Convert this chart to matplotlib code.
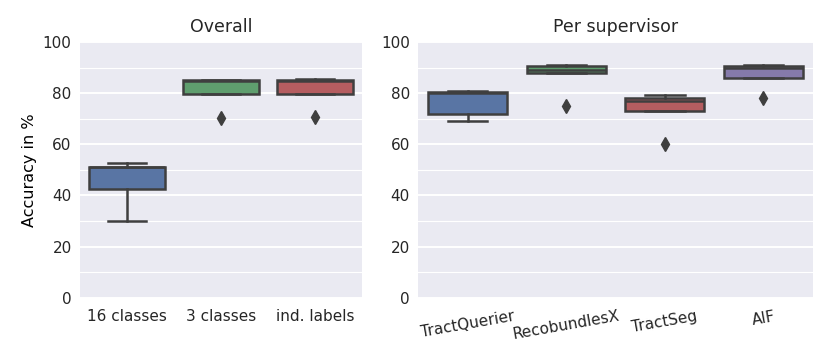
import colorsys
import numpy as np
import matplotlib
matplotlib.use("Agg")
import matplotlib.pyplot as plt
import matplotlib.colors as mcolors
from matplotlib.ticker import MultipleLocator

# accuracy values (%), five runs per group
overall_labels = ["16 classes", "3 classes", "ind. labels"]
overall_values = [
    [30.0, 42.4, 51.0, 51.2, 52.8],
    [70.2, 79.6, 84.8, 85.0, 85.3],
    [70.5, 79.7, 84.8, 85.0, 85.6],
]
supervisor_labels = ["TractQuerier", "RecobundlesX", "TractSeg", "AIF"]
supervisor_values = [
    [69.0, 71.8, 80.0, 80.3, 81.0],
    [75.0, 88.0, 89.0, 90.5, 91.0],
    [60.1, 73.0, 77.0, 78.0, 79.3],
    [78.0, 85.8, 90.0, 90.8, 91.2],
]
overall_colors = ["#4C72B0", "#55A868", "#C44E52"]
supervisor_colors = ["#4C72B0", "#55A868", "#C44E52", "#8172B2"]


def desaturate(c, prop=0.75):
    r, g, b = mcolors.to_rgb(c)
    h, l, s = colorsys.rgb_to_hls(r, g, b)
    return colorsys.hls_to_rgb(h, l, s * prop)


edge = "#3f3f3f"
lw = 1.8
plt.rcParams["font.family"] = "DejaVu Sans"
plt.rcParams["text.color"] = "#262626"
plt.rcParams["xtick.color"] = "#262626"
plt.rcParams["ytick.color"] = "#262626"


def draw(ax, labels, values, colors, title):
    ax.set_facecolor("#EAEAF2")
    for s in ax.spines.values():
        s.set_visible(False)
    ax.set_axisbelow(True)
    ax.yaxis.set_major_locator(MultipleLocator(20))
    ax.yaxis.set_minor_locator(MultipleLocator(10))
    ax.grid(which="major", axis="y", color="white", lw=1.4)
    ax.grid(which="minor", axis="y", color="white", lw=0.8)
    ax.tick_params(which="both", length=0, labelsize=11)
    ax.tick_params(axis="x", pad=8)
    ax.tick_params(axis="y", pad=6)
    bp = ax.boxplot(values, positions=range(len(values)), widths=0.8,
                    patch_artist=True, whis=1.5,
                    boxprops=dict(lw=lw, edgecolor=edge),
                    medianprops=dict(lw=lw, color=edge),
                    whiskerprops=dict(lw=lw, color=edge),
                    capprops=dict(lw=lw, color=edge),
                    flierprops=dict(marker="d", markersize=7,
                                    markerfacecolor=edge, markeredgecolor=edge))
    for patch, c in zip(bp["boxes"], colors):
        patch.set_facecolor(desaturate(c))
    ax.set_xlim(-0.5, len(values) - 0.5)
    ax.set_ylim(0, 100)
    ax.set_xticks(range(len(values)))
    ax.set_title(title, fontsize=12.5, pad=7)


fig = plt.figure(figsize=(8.3, 3.61), dpi=100)
ax1 = fig.add_axes([0.0964, 0.1753, 0.3398, 0.7083])
ax2 = fig.add_axes([0.504, 0.1753, 0.4752, 0.7083])

draw(ax1, overall_labels, overall_values, overall_colors, "Overall")
ax1.set_xticklabels(overall_labels)
ax1.set_ylabel("Accuracy in %", fontsize=11.5)

draw(ax2, supervisor_labels, supervisor_values, supervisor_colors, "Per supervisor")
ax2.set_xticklabels(supervisor_labels, rotation=10)

fig.savefig("out.png", dpi=100)
